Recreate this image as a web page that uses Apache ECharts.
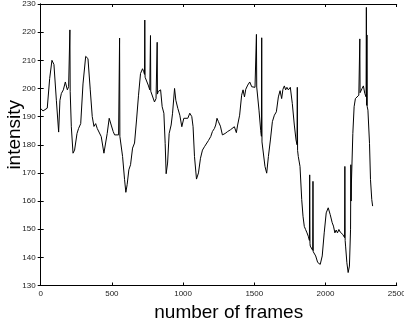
<!DOCTYPE html>
<html>
<head>
<meta charset="utf-8">
<script src="https://cdn.jsdelivr.net/npm/echarts@6/dist/echarts.min.js"></script>
<style>
html, body { margin: 0; padding: 0; background: #fff; }
#main { width: 404px; height: 327px; }
</style>
</head>
<body>
<div id="main"></div>
<script>
// frame numbers and measured intensity (spikes are single frames)
var frames = [
  0, 16, 28, 46, 63, 79, 93, 110, 126, 135, 145, 159, 173, 187, 196, 203, 205, 207, 215, 227,
  238, 255, 266, 281, 297, 316, 332, 348, 362, 374, 386, 397, 411, 425, 444, 456, 467, 481, 495, 509,
  519, 533, 547, 552, 554, 556, 561, 575, 589, 598, 607, 619, 631, 645, 659, 673, 687, 701, 715, 724,
  729, 731, 733, 741, 755, 766, 769, 771, 773, 785, 799, 810, 816, 818, 820, 825, 842, 853, 865, 874,
  881, 891, 902, 916, 926, 940, 949, 963, 977, 991, 1005, 1019, 1033, 1047, 1061, 1070, 1080, 1094, 1108, 1122,
  1136, 1150, 1159, 1178, 1194, 1206, 1220, 1229, 1238, 1248, 1262, 1276, 1295, 1313, 1332, 1346, 1360, 1374, 1383, 1397,
  1411, 1421, 1431, 1440, 1454, 1468, 1482, 1491, 1505, 1513, 1515, 1517, 1522, 1533, 1545, 1550, 1552, 1554, 1564, 1575,
  1587, 1599, 1613, 1627, 1641, 1655, 1669, 1681, 1692, 1701, 1711, 1720, 1729, 1739, 1753, 1767, 1781, 1793, 1800, 1802,
  1804, 1809, 1821, 1833, 1842, 1851, 1860, 1870, 1879, 1887, 1889, 1891, 1893, 1903, 1910, 1912, 1914, 1917, 1931, 1945,
  1963, 1977, 1991, 2005, 2019, 2033, 2047, 2056, 2066, 2075, 2084, 2094, 2103, 2113, 2122, 2134, 2136, 2138, 2141, 2150,
  2159, 2168, 2176, 2178, 2180, 2182, 2192, 2201, 2210, 2224, 2234, 2239, 2241, 2243, 2248, 2257, 2266, 2276, 2285, 2287,
  2289, 2291, 2293, 2298, 2309, 2316, 2325, 2331
];
var intensity = [
  192.9, 192.0, 192.2, 193.0, 203.5, 210.0, 208.5, 195.8, 184.5, 195.8, 198.2, 199.5, 202.3, 199.5, 200.6, 200.0, 220.8, 199.0, 186.4, 177.0,
  178.1, 184.0, 185.8, 187.5, 201.6, 211.4, 210.6, 199.5, 190.0, 186.5, 187.5, 185.8, 185.8, 182.9, 177.0, 176.8, 184.0, 189.4, 187.0, 184.7,
  183.5, 184.0, 183.5, 183.5, 217.9, 183.0, 182.9, 175.8, 167.6, 163.1, 165.8, 171.1, 172.9, 178.8, 180.6, 188.8, 197.6, 205.3, 207.0, 205.9,
  205.0, 224.3, 204.0, 203.5, 201.2, 199.5, 199.0, 218.8, 199.0, 198.9, 195.2, 196.4, 197.0, 216.4, 198.0, 198.9, 199.5, 193.5, 191.2, 180.5,
  169.7, 173.5, 184.0, 187.0, 191.2, 200.0, 195.8, 192.9, 190.5, 186.4, 189.4, 188.8, 189.4, 191.2, 190.0, 186.4, 175.8, 167.8, 170.0, 175.2,
  178.1, 179.3, 179.5, 181.5, 182.9, 184.7, 185.8, 187.0, 189.4, 188.2, 186.6, 183.5, 184.0, 184.7, 185.3, 185.8, 186.4, 184.3, 187.0, 190.5,
  197.6, 199.5, 197.0, 199.7, 201.2, 202.3, 200.6, 201.2, 200.4, 200.5, 219.2, 200.5, 200.6, 192.3, 185.0, 183.0, 218.0, 181.0, 180.5, 172.3,
  169.9, 175.8, 181.7, 188.2, 190.5, 191.7, 197.0, 199.2, 196.4, 199.7, 200.9, 199.5, 200.4, 199.5, 200.4, 194.6, 187.0, 181.7, 180.0, 200.4,
  178.0, 175.8, 172.3, 160.5, 154.6, 151.0, 149.9, 148.7, 147.5, 146.0, 169.3, 145.0, 144.0, 143.4, 142.5, 167.0, 142.0, 141.6, 140.5, 138.2,
  137.5, 140.5, 148.7, 155.8, 157.6, 155.2, 152.3, 151.1, 148.7, 149.7, 148.7, 149.9, 149.0, 148.7, 148.1, 147.0, 172.3, 146.0, 144.0, 138.1,
  134.6, 136.9, 150.0, 172.9, 160.0, 166.4, 184.0, 193.5, 196.4, 196.8, 197.6, 197.5, 217.6, 198.5, 198.9, 200.0, 200.9, 198.2, 197.0, 228.8,
  194.0, 219.0, 193.5, 192.3, 180.5, 167.6, 160.5, 158.2
];

var chart = echarts.init(document.getElementById('main'));

var points = frames.map(function (f, i) { return [f, intensity[i]]; });

var labelFont = { fontFamily: 'Liberation Sans', fontSize: 8, color: '#222' };
var nameFont = { fontFamily: 'Liberation Sans', fontSize: 19, color: '#000', padding: [0, 0, 0, 20] };
var line = { show: true, lineStyle: { color: '#000', width: 1 } };
var tick = { show: true, inside: true, length: 3, lineStyle: { color: '#000', width: 1 } };

var option = {
  backgroundColor: '#fff',
  animation: false,
  grid: { left: 40.7, right: 7.3, top: 4, bottom: 41.5, containLabel: false, outerBoundsMode: 'none' },
  xAxis: [
    {
      type: 'value', min: 0, max: 2500, interval: 500, position: 'bottom',
      name: 'number of frames', nameLocation: 'middle', nameGap: 18, nameMoveOverlap: false,
      nameTextStyle: nameFont,
      axisLine: line, axisTick: tick, splitLine: { show: false },
      axisLabel: Object.assign({ margin: 4, formatter: function (v) { return String(v); } }, labelFont)
    },
    {
      type: 'value', min: 0, max: 2500, interval: 500, position: 'top',
      axisLine: line, axisTick: tick, splitLine: { show: false }, axisLabel: { show: false }
    }
  ],
  yAxis: [
    {
      type: 'value', min: 130, max: 230, interval: 10, position: 'left',
      name: 'intensity', nameLocation: 'middle', nameGap: 16, nameMoveOverlap: false,
      nameTextStyle: nameFont,
      axisLine: line, axisTick: tick, splitLine: { show: false },
      axisLabel: Object.assign({ margin: 5 }, labelFont)
    },
    {
      type: 'value', min: 130, max: 230, interval: 10, position: 'right',
      axisLine: line, axisTick: tick, splitLine: { show: false }, axisLabel: { show: false }
    }
  ],
  series: [
    {
      type: 'line',
      data: points,
      showSymbol: false,
      sampling: false,
      lineStyle: { color: '#000', width: 1 }
    }
  ]
};
chart.setOption(option);
</script>
</body>
</html>
